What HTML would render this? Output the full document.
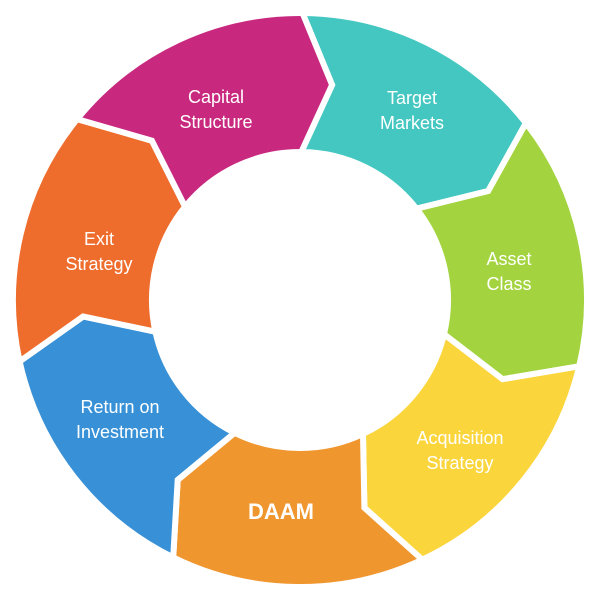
<!DOCTYPE html>
<html><head><meta charset="utf-8">
<style>
html,body{margin:0;padding:0;background:#fff;width:600px;height:600px;overflow:hidden}
svg{display:block}
text{font-family:"Liberation Sans",sans-serif;fill:#fff;font-size:18px;text-anchor:middle}
</style></head><body>
<svg id="s" width="600" height="600" viewBox="0 0 600 600" xmlns="http://www.w3.org/2000/svg">
<g id="segs"></g>
<text x="412" y="104">Target</text><text x="412" y="129">Markets</text>
<text x="509" y="265">Asset</text><text x="509" y="290">Class</text>
<text x="460" y="444">Acquisition</text><text x="460" y="469">Strategy</text>
<text x="281" y="519" style="font-size:22px;font-weight:bold">DAAM</text>
<text x="120" y="413">Return on</text><text x="120" y="438">Investment</text>
<text x="99" y="245">Exit</text><text x="99" y="270">Strategy</text>
<text x="216" y="103">Capital</text><text x="216" y="128">Structure</text>
</svg>
<script>
(function(){
var cx=300,cy=300,R=287,r=148,rm=(R+r)/2,d=8,off=0.5,step=360/7;
var cols=["#44C7C0","#A3D43F","#FBD53C","#F0962F","#3891D6","#EE6C2C","#C8297F"];
function p(rad,a){a=(a-90)*Math.PI/180;return (cx+rad*Math.cos(a)).toFixed(1)+","+(cy+rad*Math.sin(a)).toFixed(1);}
var g=document.getElementById("segs"),h="";
for(var i=0;i<7;i++){
 var a0=off+i*step,a1=a0+step;
 var s="M"+p(R,a0)+" A"+R+","+R+" 0 0,1 "+p(R,a1)+" L"+p(rm,a1+d)+" L"+p(r,a1)+
  " A"+r+","+r+" 0 0,0 "+p(r,a0)+" L"+p(rm,a0+d)+" Z";
 h+='<path d="'+s+'" fill="'+cols[i]+'" stroke="#fff" stroke-width="6" stroke-linejoin="miter"/>';
}
g.innerHTML=h;
})();
</script>
</body></html>
